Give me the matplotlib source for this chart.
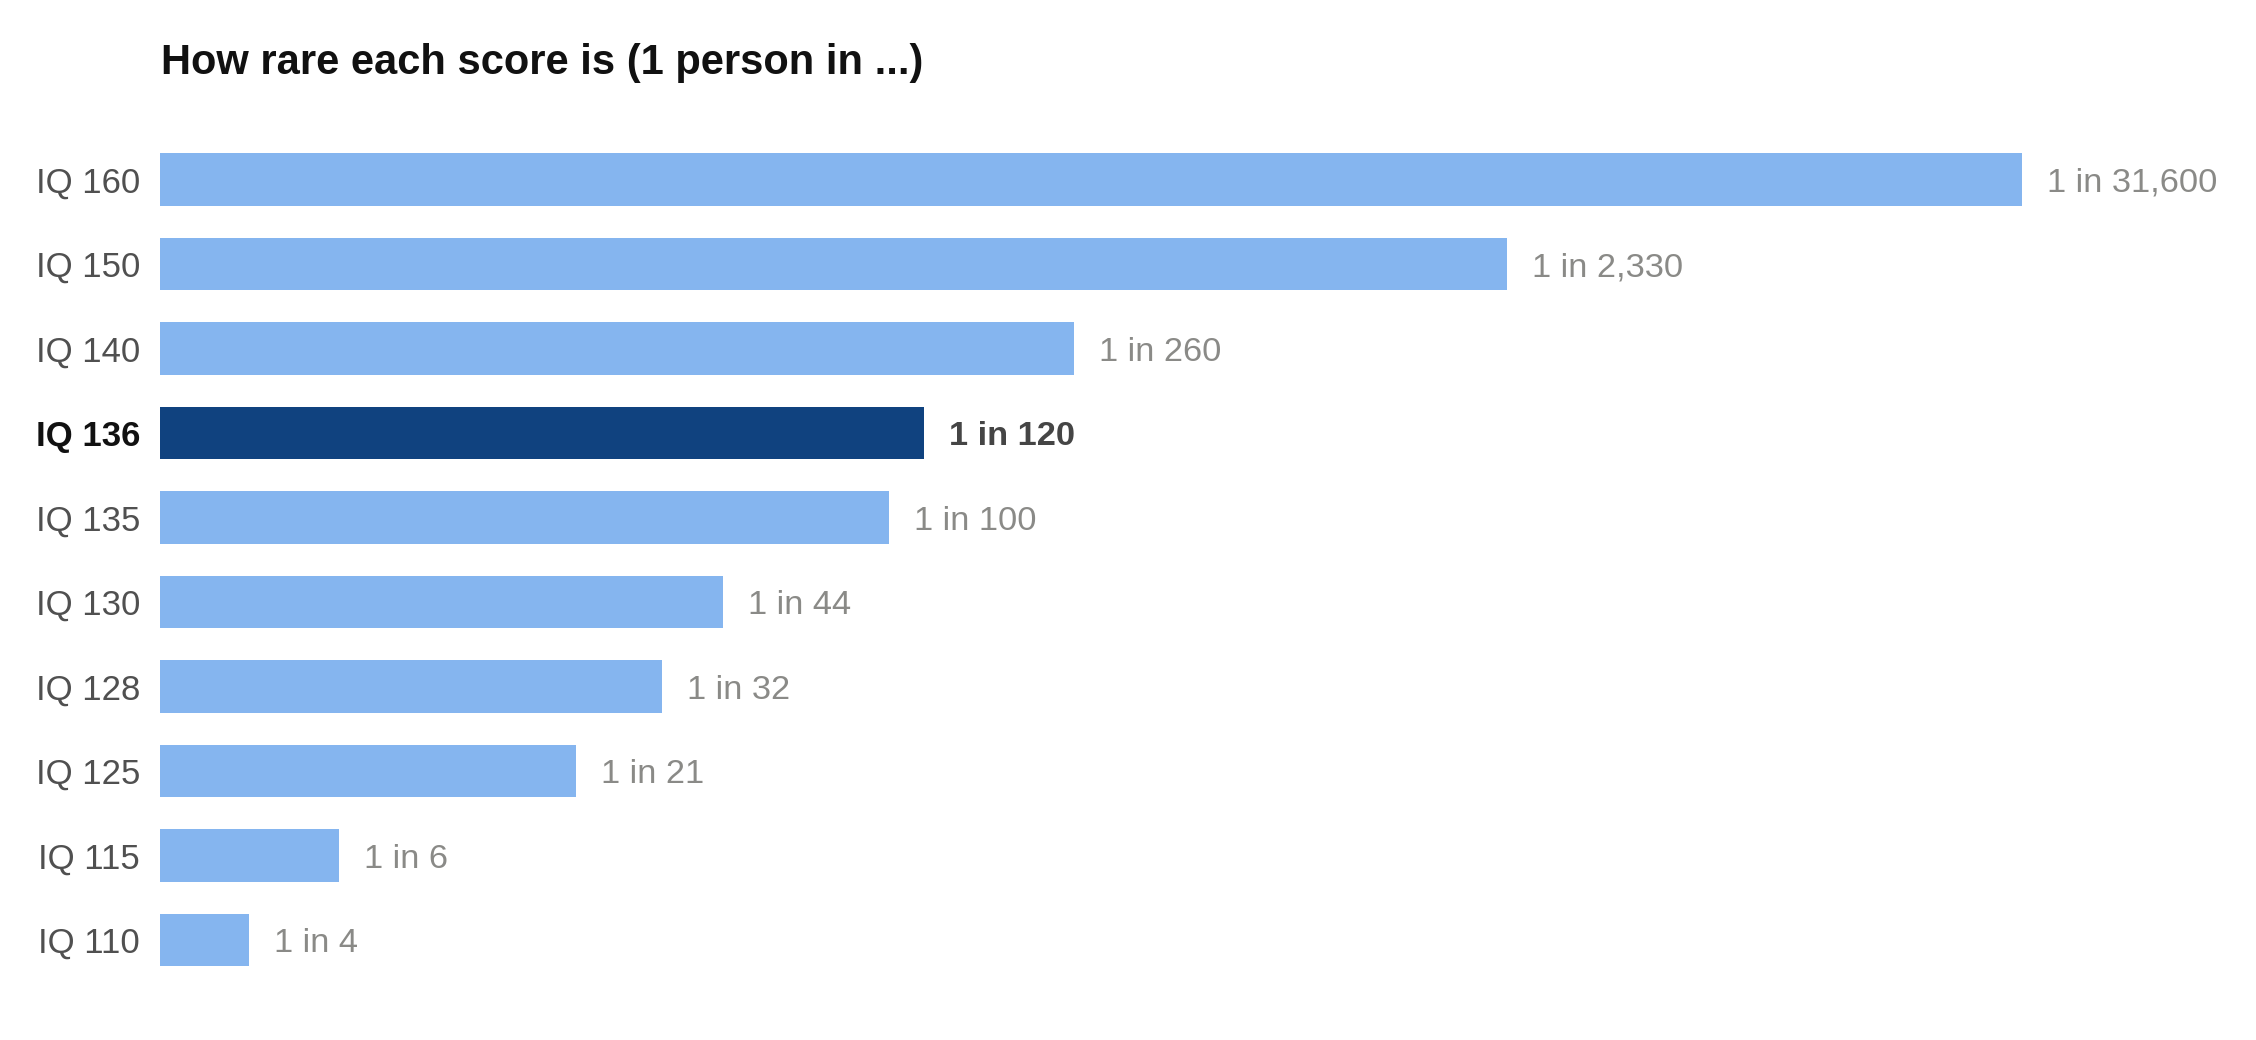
import matplotlib
matplotlib.use("Agg")
import matplotlib.pyplot as plt

plt.rcParams['font.family'] = ['Liberation Sans', 'DejaVu Sans']

# Data (top to bottom)
scores = ["IQ 160", "IQ 150", "IQ 140", "IQ 136", "IQ 135",
          "IQ 130", "IQ 128", "IQ 125", "IQ 115", "IQ 110"]
rarity = [31600, 2330, 261, 122, 102, 44, 32.3, 21, 6.3, 4]
rarity_labels = ["1 in 31,600", "1 in 2,330", "1 in 260", "1 in 120", "1 in 100",
                 "1 in 44", "1 in 32", "1 in 21", "1 in 6", "1 in 4"]
highlight = "IQ 136"

light_blue = "#85b5ef"
dark_blue = "#10427f"

fig = plt.figure(figsize=(11.28, 5.2), dpi=200)
ax = fig.add_axes([0.0709, 0.0555, 0.9262, 0.8125])

ypos = list(range(len(scores)))
colors = [dark_blue if s == highlight else light_blue for s in scores]
ax.barh(ypos, rarity, height=0.62, color=colors, left=0.001)

ax.set_xscale('log')
ax.set_xlim(2.55, 1e5)
ax.set_ylim(len(scores) - 0.5, -0.5)

ax.set_yticks(ypos)
ax.set_yticklabels(scores)
ax.tick_params(axis='y', length=0, pad=7.2, labelsize=12.5, labelcolor="#505050")
for lbl in ax.get_yticklabels():
    lbl.set_verticalalignment('center_baseline')
    if lbl.get_text() == highlight:
        lbl.set_fontweight('bold')
        lbl.set_color("#111111")
ax.set_xticks([])
ax.xaxis.set_minor_locator(matplotlib.ticker.NullLocator())
for sp in ax.spines.values():
    sp.set_visible(False)

for y, v, t, s in zip(ypos, rarity, rarity_labels, scores):
    bold = s == highlight
    ax.annotate(t, (v, y), xytext=(9, 0), textcoords='offset points',
                va='center_baseline', ha='left', fontsize=12.4,
                fontweight='bold' if bold else 'normal',
                color="#454545" if bold else "#8a8a87", annotation_clip=False)

fig.text(161 / 2256, 1 - 74 / 1040, "How rare each score is (1 person in ...)",
         fontsize=15, fontweight='bold', color="#111111", va='baseline', ha='left')

fig.savefig("out.png", dpi=200, facecolor="white")
